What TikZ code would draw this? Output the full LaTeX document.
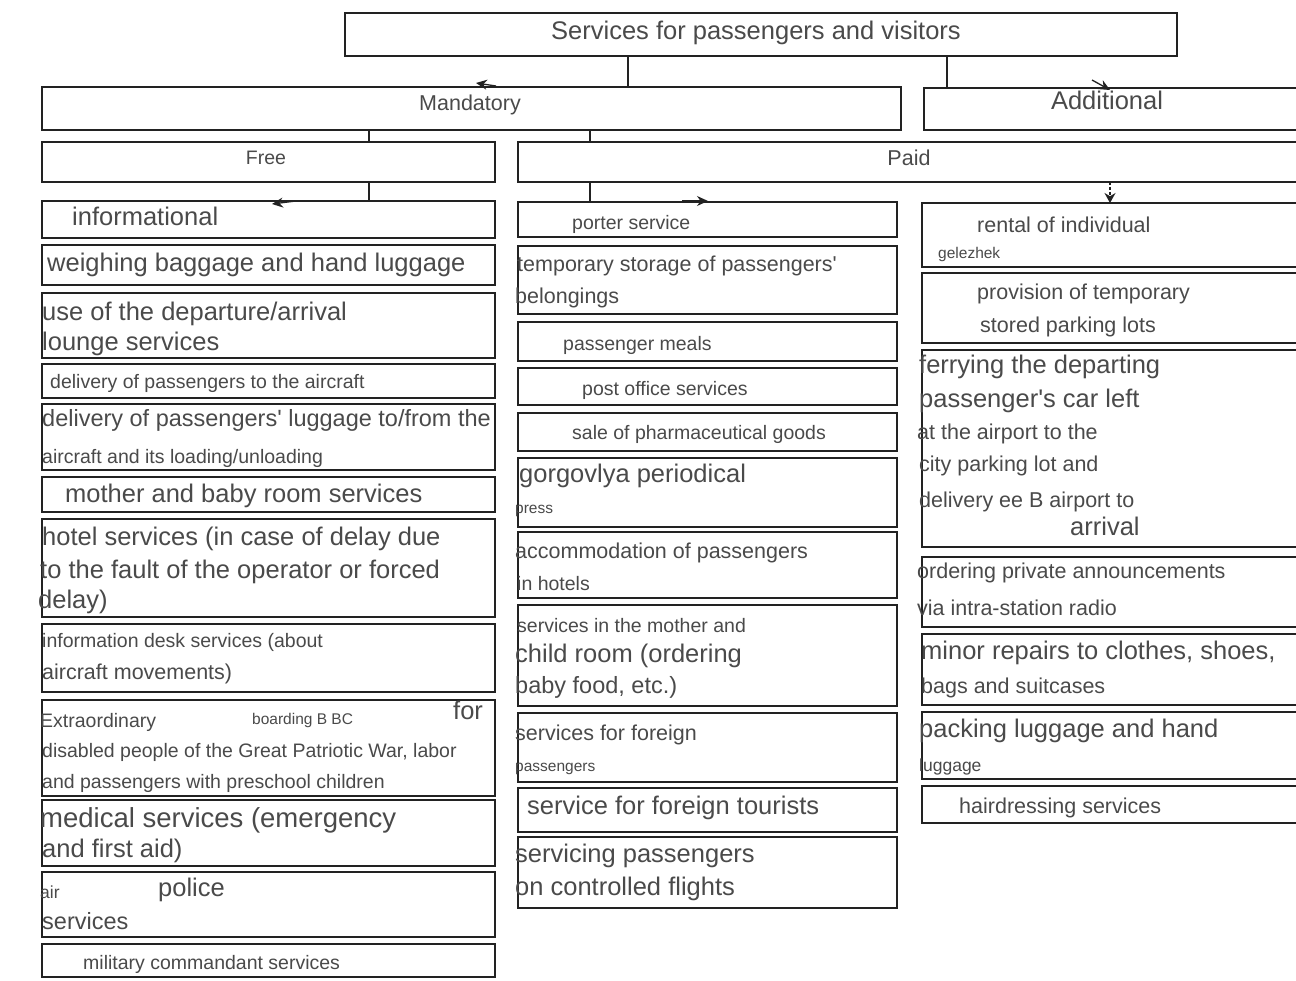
\documentclass[tikz,border=0pt]{standalone}
\usepackage{fontspec}
\setmainfont{Liberation Sans}
\usetikzlibrary{arrows.meta}

\definecolor{ink}{HTML}{222222}
\definecolor{txtgray}{HTML}{4A4A4A}

% text sizes used in the chart
\newcommand\fA{\fontsize{25.5}{30}\selectfont}
\newcommand\fB{\fontsize{21.5}{26}\selectfont}
\newcommand\fC{\fontsize{19.5}{24}\selectfont}
\newcommand\fD{\fontsize{15.5}{19}\selectfont}
\newcommand\fE{\fontsize{17.5}{21}\selectfont}
\newcommand\fF{\fontsize{23.5}{28}\selectfont}
\newcommand\fG{\fontsize{27.5}{32}\selectfont}

\tikzset{
  frame/.style={draw=ink, line width=1.8pt, inner sep=0pt, outer sep=0pt, anchor=north west},
  lbl/.style={anchor=west, inner sep=0pt, text=txtgray, text height=0.72em, text depth=0.21em, yshift=-5pt},
  clbl/.style={lbl, anchor=center},
  link/.style={draw=ink, line width=1.6pt},
  tipmark/.style={draw=ink, line width=1.3pt, -{Stealth[length=11pt,width=10pt]}},
}

% \panel{name}{x1}{y1}{x2}{y2}: a framed box given by its corners
\newcommand\panel[5]{\node[frame, minimum width={(#4-#2)*1pt}, minimum height={(#5-#3)*1pt}] (#1) at (#2,#3) {};}
% \tline{name}{x}{y}{font}{text}: one line of text, left-aligned
\newcommand\tline[5]{\node[lbl, font=#4] (#1) at (#2,#3) {#5};}
% \ctline{name}{x}{y}{font}{text}: one centred line of text
\newcommand\ctline[5]{\node[clbl, font=#4] (#1) at (#2,#3) {#5};}

\begin{document}
\begin{tikzpicture}[x=1pt, y=-1pt]
\useasboundingbox[fill=white] (0,0) rectangle (1296,981);
\clip (0,0) rectangle (1296,981);

% ---- header levels ----
\panel{title}{345}{13}{1177}{56}
\panel{mand}{42}{87}{901}{130}
\panel{add}{924}{88}{1310}{130}
\panel{free}{42}{142}{495}{182}
\panel{paid}{518}{142}{1310}{182}

\ctline{ttitle}{756}{32}{\fA}{Services for passengers and visitors}
\ctline{tmand}{470}{103}{\fB}{Mandatory}
\ctline{tadd}{1107}{102}{\fA}{Additional}
\ctline{tfree}{266}{157}{\fC}{Free}
\ctline{tpaid}{909}{158}{\fB}{Paid}

% ---- free services ----
\panel{L1}{42}{201}{495}{238}
\panel{L2}{42}{245}{495}{285}
\panel{L3}{42}{293}{495}{358}
\panel{L4}{42}{364}{495}{398}
\panel{L5}{42}{404}{495}{470}
\panel{L6}{42}{477}{495}{512}
\panel{L7}{42}{519}{495}{617}
\panel{L8}{42}{624}{495}{692}
\panel{L9}{42}{700}{495}{796}
\panel{L10}{42}{800}{495}{866}
\panel{L11}{42}{872}{495}{937}
\panel{L12}{42}{944}{495}{977}

\tline{l1a}{72}{218}{\fA}{informational}
\tline{l2a}{47}{264}{\fA}{weighing baggage and hand luggage}
\tline{l3a}{42}{313}{\fA}{use of the departure/arrival}
\tline{l3b}{42}{343}{\fA}{lounge services}
\tline{l4a}{50}{381}{\fC}{delivery of passengers to the aircraft}
\tline{l5a}{42}{419}{\fF}{delivery of passengers\textquotesingle{} luggage to/from the}
\tline{l5b}{42}{456}{\fC}{aircraft and its loading/unloading}
\tline{l6a}{65}{495}{\fA}{mother and baby room services}
\tline{l7a}{42}{538}{\fA}{hotel services (in case of delay due}
\tline{l7b}{40}{571}{\fA}{to the fault of the operator or forced}
\tline{l7c}{38}{601}{\fA}{delay)}
\tline{l8a}{42}{640}{\fC}{information desk services (about}
\tline{l8b}{42}{672}{\fB}{aircraft movements)}
\tline{l9a}{40}{720}{\fC}{Extraordinary}
\tline{l9b}{252}{717}{\fD}{boarding B BC}
\tline{l9c}{453}{712}{\fA}{for}
\tline{l9d}{42}{750}{\fC}{disabled people of the Great Patriotic War, labor}
\tline{l9e}{42}{781}{\fC}{and passengers with preschool children}
\tline{l10a}{40}{820}{\fG}{medical services (emergency}
\tline{l10b}{42}{850}{\fA}{and first aid)}
\tline{l11a}{40}{891}{\fE}{air}
\tline{l11b}{158}{889}{\fA}{police}
\tline{l11c}{42}{922}{\fF}{services}
\tline{l12a}{83}{962}{\fC}{military commandant services}

% ---- paid services ----
\panel{M1}{518}{202}{897}{237}
\panel{M2}{518}{246}{897}{314}
\panel{M3}{518}{322}{897}{361}
\panel{M4}{518}{368}{897}{405}
\panel{M5}{518}{413}{897}{451}
\panel{M6}{518}{458}{897}{527}
\panel{M7}{518}{532}{897}{598}
\panel{M8}{518}{605}{897}{706}
\panel{M9}{518}{713}{897}{782}
\panel{M10}{518}{788}{897}{832}
\panel{M11}{518}{837}{897}{908}

\tline{m1a}{572}{222}{\fC}{porter service}
\tline{m2a}{517}{264}{\fB}{temporary storage of passengers\textquotesingle}
\tline{m2b}{515}{296}{\fB}{belongings}
\tline{m3a}{563}{343}{\fC}{passenger meals}
\tline{m4a}{582}{388}{\fC}{post office services}
\tline{m5a}{572}{432}{\fC}{sale of pharmaceutical goods}
\tline{m6a}{519}{475}{\fA}{gorgovlya periodical}
\tline{m6b}{515}{506}{\fD}{press}
\tline{m7a}{515}{551}{\fB}{accommodation of passengers}
\tline{m7b}{517}{583}{\fC}{in hotels}
\tline{m8a}{517}{625}{\fC}{services in the mother and}
\tline{m8b}{515}{655}{\fA}{child room (ordering}
\tline{m8c}{515}{686}{\fF}{baby food, etc.)}
\tline{m9a}{515}{733}{\fB}{services for foreign}
\tline{m9b}{515}{764}{\fD}{passengers}
\tline{m10a}{527}{807}{\fA}{service for foreign tourists}
\tline{m11a}{515}{855}{\fA}{servicing passengers}
\tline{m11b}{515}{888}{\fA}{on controlled flights}

% ---- additional services ----
\panel{R1}{922}{203}{1310}{267}
\panel{R2}{922}{273}{1310}{343}
\panel{R3}{922}{350}{1310}{547}
\panel{R4}{922}{557}{1310}{627}
\panel{R5}{922}{634}{1310}{705}
\panel{R6}{922}{712}{1310}{779}
\panel{R7}{922}{786}{1310}{823}

\tline{r1a}{977}{225}{\fB}{rental of individual}
\tline{r1b}{938}{251}{\fD}{gelezhek}
\tline{r2a}{977}{292}{\fB}{provision of temporary}
\tline{r2b}{980}{325}{\fB}{stored parking lots}
\tline{r3a}{919}{366}{\fA}{ferrying the departing}
\tline{r3b}{919}{400}{\fA}{passenger\textquotesingle{}s car left}
\tline{r3c}{917}{432}{\fB}{at the airport to the}
\tline{r3d}{919}{464}{\fB}{city parking lot and}
\tline{r3e}{919}{500}{\fB}{delivery ee B airport to}
\tline{r3f}{1070}{528}{\fA}{arrival}
\tline{r4a}{917}{571}{\fB}{ordering private announcements}
\tline{r4b}{917}{608}{\fB}{via intra-station radio}
\tline{r5a}{921}{652}{\fA}{minor repairs to clothes, shoes,}
\tline{r5b}{921}{686}{\fB}{bags and suitcases}
\tline{r6a}{919}{730}{\fA}{packing luggage and hand}
\tline{r6b}{919}{764}{\fE}{luggage}
\tline{r7a}{959}{806}{\fB}{hairdressing services}

% ---- connectors ----
\coordinate (c628) at (628,0);
\coordinate (c947) at (947,0);
\coordinate (c369) at (369,0);
\coordinate (c590) at (590,0);
\coordinate (c1110) at (1110,0);
\draw[link] (c628 |- title.south) -- (c628 |- mand.north);
\draw[link] (c947 |- title.south) -- (c947 |- add.north);
\draw[link] (c369 |- mand.south) -- (c369 |- free.north);
\draw[link] (c590 |- mand.south) -- (c590 |- paid.north);
\draw[link] (c369 |- free.south) -- (c369 |- L1.north);
\draw[link] (c590 |- paid.south) -- (c590 |- M1.north);
\draw[draw=ink, line width=1.3pt, dash pattern=on 3pt off 2pt, -{Stealth[length=10pt,width=11pt]}]
  (c1110 |- paid.south) -- (c1110 |- R1.north);

% small arrow marks on the box edges
\coordinate (a1s) at (496,86);  \coordinate (a1e) at (476,83);
\coordinate (a2s) at (1092,80); \coordinate (a2e) at (1110,90);
\coordinate (a3s) at (296,201); \coordinate (a3e) at (272,204);
\coordinate (a4s) at (682,201); \coordinate (a4e) at (708,201);
\draw[tipmark] (a1s) -- (a1e);
\draw[tipmark] (a2s) -- (a2e);
\draw[tipmark] (a3s) -- (a3e);
\draw[tipmark] (a4s) -- (a4e);
\end{tikzpicture}
\end{document}
